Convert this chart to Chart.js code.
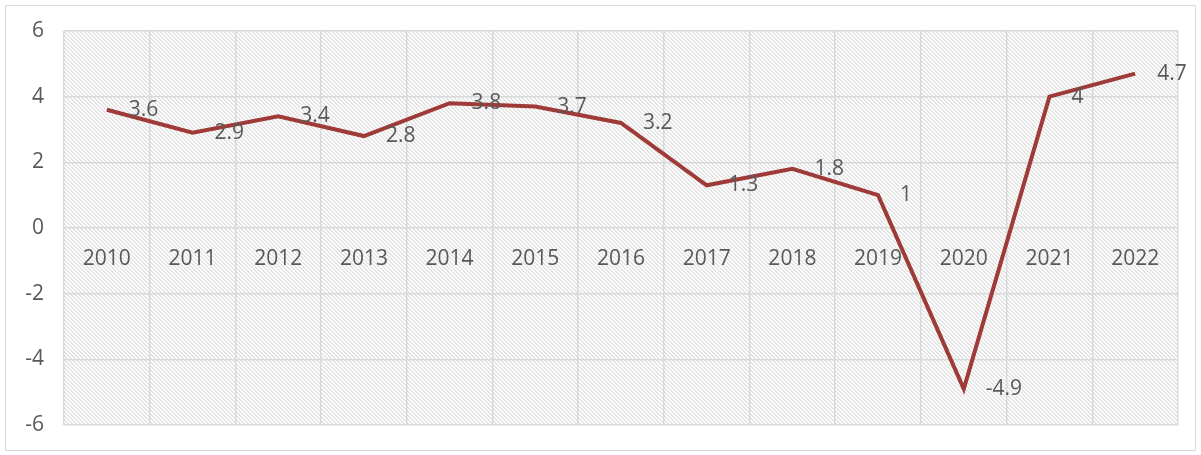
<!DOCTYPE html>
<html>
<head>
<meta charset="utf-8">
<script src="https://cdn.jsdelivr.net/npm/chart.js@4.4.0/dist/chart.umd.min.js"></script>
<style>
  html, body { margin: 0; padding: 0; background: #fff; }
  #box {
    position: absolute; left: 5px; top: 5px;
    width: 1189px; height: 444px;
    border: 1px solid #d9d9d9;
  }
</style>
</head>
<body>
<div id="box"><canvas id="myChart"></canvas></div>
<script>
const years = ['2010', '2011', '2012', '2013', '2014', '2015', '2016', '2017', '2018', '2019', '2020', '2021', '2022'];
const growth = [3.6, 2.9, 3.4, 2.8, 3.8, 3.7, 3.2, 1.3, 1.8, 1, -4.9, 4, 4.7];
const yTicks = [-6, -4, -2, 0, 2, 4, 6];

const textColor = '#595959';
const fontFamily = '"Open Sans", "Noto Sans", sans-serif';

// light downward diagonal hatch, like the excel fill
function makeHatch() {
    const c = document.createElement('canvas');
    c.width = 8; c.height = 8;
    const g = c.getContext('2d');
    g.fillStyle = '#fff';
    g.fillRect(0, 0, 8, 8);
    g.fillStyle = '#e4e4e4';
    for (let y = 0; y < 8; y++) {
        for (let x = 0; x < 8; x++) {
            const d = ((x - y) % 4 + 4) % 4;
            if (d === 0 || d === 1) g.fillRect(x, y, 1, 1);
        }
    }
    return c;
}

const hatchBg = {
    id: 'hatchBg',
    beforeDraw(chart) {
        const {ctx, chartArea: a} = chart;
        ctx.save();
        ctx.fillStyle = ctx.createPattern(makeHatch(), 'repeat');
        ctx.fillRect(a.left, a.top, a.right - a.left, a.bottom - a.top);
        ctx.restore();
    }
};

const pointLabels = {
    id: 'pointLabels',
    afterDatasetsDraw(chart) {
        const ctx = chart.ctx;
        const meta = chart.getDatasetMeta(0);
        ctx.save();
        ctx.font = '21px ' + fontFamily;
        ctx.fillStyle = textColor;
        ctx.textAlign = 'left';
        ctx.textBaseline = 'middle';
        meta.data.forEach((pt, i) => {
            ctx.fillText(String(growth[i]), pt.x + 22, pt.y);
        });
        ctx.restore();
    }
};

const ctx = document.getElementById('myChart');

new Chart(ctx, {
    type: 'line',
    data: {
        labels: years,
        datasets: [{
            data: growth,
            borderColor: '#9e3a38',
            borderWidth: 4,
            pointRadius: 0,
            tension: 0,
            fill: false
        }]
    },
    options: {
        responsive: true,
        maintainAspectRatio: false,
        animation: false,
        layout: { padding: { left: 0, top: 25, right: 17, bottom: 25 } },
        plugins: {
            legend: { display: false },
            tooltip: { enabled: false }
        },
        scales: {
            x: {
                position: { y: 0 },
                offset: true,
                grid: { offset: true, color: '#d9d9d9', lineWidth: 1.5, drawTicks: false },
                border: { display: false },
                ticks: {
                    color: textColor,
                    font: { family: fontFamily, size: 21 },
                    padding: 18,
                    maxRotation: 0
                }
            },
            y: {
                min: -6,
                max: 6,
                afterBuildTicks: s => { s.ticks = yTicks.map(v => ({ value: v })); },
                afterFit: s => {
                    s.width = 58;
                    s.paddingTop = 0;
                    s.paddingBottom = 0;
                },
                grid: { color: '#d9d9d9', lineWidth: 1.5, drawTicks: false },
                border: { display: false },
                ticks: {
                    color: textColor,
                    font: { family: fontFamily, size: 21 },
                    padding: 20
                }
            }
        }
    },
    plugins: [hatchBg, pointLabels]
});
</script>
</body>
</html>
